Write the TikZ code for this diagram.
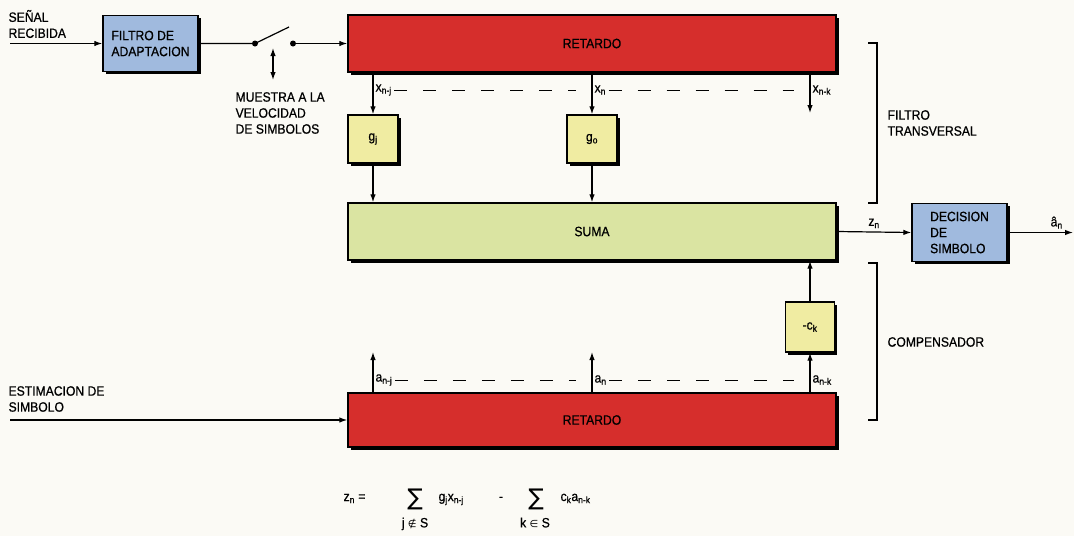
\documentclass[tikz,border=0pt]{standalone}
\usepackage{fontspec}
\setmainfont{Liberation Sans}[FakeStretch=0.9,FakeBold=0.7]
\newfontfamily\simbolos{DejaVu Sans}
\usetikzlibrary{arrows.meta,shadows}
\definecolor{fondo}{RGB}{251,250,245}
\definecolor{retardored}{RGB}{214,46,44}
\definecolor{adaptblue}{RGB}{160,186,222}
\definecolor{coefyellow}{RGB}{240,236,162}
\definecolor{sumagreen}{RGB}{218,228,162}
\begin{document}
\begin{tikzpicture}[x=1pt,y=-1pt,line width=1.2pt,
    font=\fontsize{13.5}{16}\selectfont,
    >={Latex[length=8pt,width=5.5pt]},
    caja/.style={draw=black,line width=1.4pt,inner sep=2pt,
      drop shadow={shadow xshift=2.5pt,shadow yshift=-2.5pt,opacity=1,fill=black}},
    raya/.style={line width=1pt,dash pattern=on 13pt off 16pt},
    etiq/.style={anchor=west,inner sep=2pt},
    sigma/.style={inner sep=0pt,font=\simbolos\fontsize{23}{23}\selectfont}]
    \useasboundingbox[fill=fondo] (0,0) rectangle (1074,536);
    % bloques
    \node[caja,fill=adaptblue,minimum width=95pt,minimum height=56pt,align=left] (filtro) at (150.5,43.5) {FILTRO DE\\ADAPTACION};
    \node[caja,fill=retardored,minimum width=488pt,minimum height=57pt] (retA) at (592,43.5) {RETARDO};
    \node[caja,fill=coefyellow,minimum width=50pt,minimum height=48pt] (gj) at (373,139) {g\textsubscript{j}};
    \node[caja,fill=coefyellow,minimum width=50pt,minimum height=48pt] (go) at (592,139) {g\textsubscript{o}};
    \node[caja,fill=sumagreen,minimum width=488pt,minimum height=57pt] (suma) at (592,231.5) {SUMA};
    \node[caja,fill=adaptblue,minimum width=95pt,minimum height=58pt,align=left] (dec) at (959.5,232.5) {DECISION\\DE\\SIMBOLO};
    \node[caja,fill=coefyellow,minimum width=49pt,minimum height=50pt] (ck) at (810,327) {-c\textsubscript{k}};
    \node[caja,fill=retardored,minimum width=488pt,minimum height=54pt] (retB) at (592,420) {RETARDO};
    % entrada y muestreo
    \coordinate (ent) at (10,43.5);
    \coordinate (s1) at (255,43.5);
    \coordinate (s2) at (293,43.5);
    \coordinate (hoja) at (289,27);
    \coordinate (ma) at (273,48);
    \coordinate (mb) at (273,80);
    \node[anchor=west,inner sep=0pt,align=left] (senal) at (8,24) {SEÑAL\\RECIBIDA};
    \draw[->] (ent) -- (filtro.west);
    \draw (filtro.east) -- (s1) -- (hoja);
    \fill (s1) circle[radius=3pt];
    \fill (s2) circle[radius=3pt];
    \draw[->] (s2) -- (retA.west);
    \draw[<->] (ma) -- (mb);
    \node[anchor=west,inner sep=0pt,align=left] (muestra) at (235,113) {MUESTRA A LA\\VELOCIDAD\\DE SIMBOLOS};
    % filtro transversal
    \coordinate (tk) at (810,113);
    \draw[->] (retA.south -| gj) -- (gj);
    \draw[->] (retA.south -| go) -- (go);
    \draw[->] (retA.south -| tk) -- (tk);
    \draw[->] (gj) -- (suma.north -| gj);
    \draw[->] (go) -- (suma.north -| go);
    \node[etiq] (xj) at (373,90) {x\textsubscript{n-j}};
    \node[etiq] (xn) at (592,90) {x\textsubscript{n}};
    \node[etiq] (xk) at (810,90) {x\textsubscript{n-k}};
    \draw[raya,shorten >=16pt] (xj.east) -- (xn.west);
    \draw[raya,shorten >=16pt] (xn.east) -- (xk.west);
    % salida
    \coordinate (sal) at (1073,232.5);
    \draw[->] (suma.east) -- (dec.west) node[midway,above] {z\textsubscript{n}};
    \draw[->] (dec.east) -- (sal) node[pos=0.75,above] {â\textsubscript{n}};
    % compensador
    \coordinate (aj) at (373,352);
    \coordinate (an) at (592,352);
    \coordinate (est) at (10,420);
    \draw[->] (ck) -- (suma.south -| ck);
    \draw[->] (retB.north -| aj) -- (aj);
    \draw[->] (retB.north -| an) -- (an);
    \draw[->] (retB.north -| ck) -- (ck);
    \node[etiq] (aaj) at (373,380) {a\textsubscript{n-j}};
    \node[etiq] (aan) at (592,380) {a\textsubscript{n}};
    \node[etiq] (aak) at (810,380) {a\textsubscript{n-k}};
    \draw[raya,shorten >=16pt] (aaj.east) -- (aan.west);
    \draw[raya,shorten >=16pt] (aan.east) -- (aak.west);
    \node[anchor=west,inner sep=0pt,align=left] (estim) at (8,399) {ESTIMACION DE\\SIMBOLO};
    \draw[->] (est) -- (retB.west);
    % llaves
    \draw (868,43) -- (877,43) -- (877,203) -- (868,203);
    \draw (868,263) -- (877,263) -- (877,420) -- (868,420);
    \node[anchor=west,inner sep=0pt,align=left] (transv) at (887,123) {FILTRO\\TRANSVERSAL};
    \node[anchor=west,inner sep=0pt] (comp) at (887,342) {COMPENSADOR};
    % formula
    \node[anchor=base west,inner sep=0pt] (fz) at (343,501) {z\textsubscript{n} =};
    \node[sigma] (sum1) at (415,499) {∑};
    \node[anchor=north,inner sep=0pt] (sub1) at (415,517) {j {\simbolos\fontsize{10}{10}\selectfont ∉} S};
    \node[anchor=base west,inner sep=0pt] (term1) at (438,501) {g\textsubscript{j}x\textsubscript{n-j}};
    \node[anchor=base,inner sep=0pt] (menos) at (501,501) {-};
    \node[sigma] (sum2) at (536,499) {∑};
    \node[anchor=north,inner sep=0pt] (sub2) at (535,517) {k {\simbolos\fontsize{10}{10}\selectfont ∈} S};
    \node[anchor=base west,inner sep=0pt] (term2) at (560,501) {c\textsubscript{k}a\textsubscript{n-k}};
\end{tikzpicture}
\end{document}
